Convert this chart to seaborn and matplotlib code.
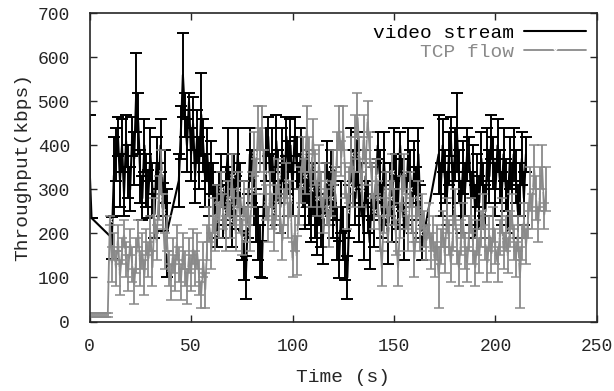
import matplotlib
matplotlib.use('Agg')
import matplotlib.pyplot as plt
import numpy as np
import pandas as pd
import seaborn as sns

# Time stamps (s) and throughput (kbps) with error half-widths
video_time = [0, 1] + list(range(11, 39)) + list(range(44, 165)) + list(range(172, 216))
video_kbps = [
    352, 235,
    190, 330, 380, 420, 320, 400, 290, 410, 340, 300, 420, 370, 520, 450, 330, 280, 400, 320,
    290, 380, 300, 240, 360, 300, 400, 260, 330, 200,
    320, 430, 560, 470, 400, 500, 380, 450, 330, 420, 360, 470, 400, 320, 380, 300, 350, 300,
    250, 230, 280, 320, 250, 290, 380, 280, 230, 320, 270, 380, 300, 200, 150, 100, 240, 380,
    330, 280, 240, 200, 160, 140, 300, 380, 420, 320, 380, 280, 410, 330, 260, 380, 300, 420,
    350, 400, 300, 420, 360, 300, 380, 320, 270, 330, 280, 240, 300, 250, 210, 280, 230, 190,
    300, 350, 280, 330, 250, 290, 200, 140, 260, 200, 150, 100, 250, 380, 330, 280, 370, 240,
    300, 200, 330, 260, 180, 290, 230, 300, 400, 330, 250, 370, 280, 190, 300, 240, 380, 320,
    270, 400, 310, 200, 280, 380, 330, 260, 350, 290, 380, 250, 180,
    380, 300, 400, 330, 280, 370, 420, 300, 380, 430, 330, 260, 350, 300, 380, 380, 280, 340,
    250, 320, 270, 370, 300, 250, 380, 330, 420, 360, 300, 400, 330, 280, 380, 310, 260, 360,
    300, 380, 330, 250, 300, 370, 280, 380,
]
video_err = [
    117, 0,
    47, 90, 60, 45, 60, 60, 50, 60, 60, 50, 45, 60, 90, 70, 60, 50, 60, 60,
    55, 60, 60, 50, 60, 60, 60, 55, 60, 100,
    60, 60, 95, 50, 60, 20, 60, 60, 60, 60, 60, 95, 60, 60, 60, 60, 60, 60,
    60, 60, 60, 60, 60, 60, 60, 60, 60, 60, 60, 60, 60, 60, 55, 48, 50, 60,
    60, 60, 60, 60, 60, 42, 60, 60, 45, 60, 60, 60, 60, 60, 60, 60, 60, 45,
    60, 60, 60, 45, 60, 60, 60, 60, 60, 60, 60, 60, 60, 60, 60, 60, 60, 60,
    60, 60, 60, 60, 60, 60, 60, 42, 60, 60, 55, 48, 60, 60, 60, 60, 60, 60,
    60, 60, 60, 60, 60, 60, 60, 60, 30, 60, 60, 60, 60, 60, 60, 60, 60, 60,
    60, 30, 60, 60, 60, 60, 60, 60, 60, 60, 60, 60, 40,
    90, 60, 60, 60, 60, 60, 45, 60, 60, 90, 60, 60, 60, 60, 60, 40, 60, 60,
    60, 60, 60, 60, 60, 60, 60, 60, 50, 60, 60, 60, 60, 60, 60, 60, 60, 60,
    60, 60, 60, 60, 60, 60, 60, 40,
]

tcp_time = list(range(0, 226))
tcp_kbps = [
    15, 15, 15, 15, 15, 15, 15, 15, 15, 15,
    230, 130, 170, 120, 190, 100, 160, 200, 140, 110, 180, 130, 80, 150, 200, 120, 160, 100,
    180, 140, 200, 120, 240, 180, 280, 340, 250, 160, 200, 120, 90, 150, 110, 180, 130, 90,
    160, 120, 80, 150, 110, 170, 120, 160, 100, 60, 140, 70, 180, 220, 160, 240, 200, 270,
    230, 300, 250, 200, 280, 230, 330, 260, 200, 300, 240, 190, 280, 220, 260, 200, 300, 380,
    330, 440, 390, 440, 340, 270, 220, 300, 250, 200, 270, 330, 240, 180, 260, 320, 230, 280,
    140, 200, 150, 260, 310, 380, 330, 440, 380, 300, 420, 350, 280, 360, 300, 240, 320, 260,
    210, 280, 350, 300, 390, 440, 370, 440, 320, 250, 310, 380, 300, 420, 470, 380, 300, 420,
    350, 460, 390, 320, 250, 330, 280, 200, 120, 240, 300, 220, 280, 340, 260, 190, 120, 230,
    290, 340, 250, 200, 300, 240, 140, 220, 280, 200, 250, 210, 180, 230, 160, 200, 140, 180,
    100, 170, 210, 150, 240, 190, 130, 200, 260, 170, 120, 190, 230, 160, 130, 200, 240, 170,
    120, 190, 150, 210, 250, 180, 130, 200, 150, 220, 170, 130, 190, 240, 160, 200, 150, 210,
    250, 180, 140, 200, 100, 180, 230, 170, 230, 300, 250, 350, 280, 220, 300, 350, 240, 300,
]
tcp_err = [
    5, 5, 5, 5, 5, 5, 5, 5, 5, 5,
    10, 40, 30, 40, 30, 40, 30, 30, 40, 40, 30, 40, 40, 40, 30, 40, 40, 40,
    30, 40, 40, 40, 40, 40, 50, 50, 40, 40, 40, 40, 40, 40, 40, 40, 40, 40,
    40, 40, 40, 40, 40, 40, 40, 40, 40, 30, 40, 40, 40, 40, 40, 40, 40, 40,
    40, 40, 40, 40, 40, 40, 50, 40, 40, 40, 40, 40, 40, 40, 40, 40, 40, 50,
    40, 50, 50, 50, 50, 40, 40, 40, 40, 40, 40, 40, 40, 40, 40, 40, 40, 40,
    40, 40, 45, 40, 40, 40, 40, 50, 40, 40, 40, 40, 40, 40, 40, 40, 40, 40,
    40, 40, 40, 40, 40, 50, 40, 50, 40, 40, 40, 40, 40, 50, 50, 40, 40, 50,
    40, 40, 40, 40, 40, 40, 40, 40, 40, 40, 40, 40, 40, 40, 40, 40, 40, 40,
    40, 40, 40, 40, 40, 40, 40, 40, 40, 40, 40, 40, 40, 40, 40, 40, 40, 40,
    70, 40, 40, 40, 40, 40, 40, 40, 40, 40, 40, 40, 40, 40, 40, 40, 40, 40,
    40, 40, 40, 40, 40, 40, 40, 40, 40, 40, 40, 40, 40, 40, 40, 40, 40, 40,
    40, 40, 40, 40, 70, 40, 40, 40, 40, 50, 40, 50, 50, 40, 50, 50, 30, 50,
]

video = pd.DataFrame({'time': video_time, 'kbps': video_kbps, 'err': video_err})
tcp = pd.DataFrame({'time': tcp_time, 'kbps': tcp_kbps, 'err': tcp_err})

sns.set_style('ticks')
plt.rcParams['font.family'] = ['Liberation Mono', 'DejaVu Sans Mono']

fig = plt.figure(figsize=(6.14, 3.91), dpi=100)
ax = fig.add_axes([0.1458, 0.1777, 0.8265, 0.7883])

black = '#000000'
grey = '#8a8a8a'

# video stream first, TCP flow drawn over it
sns.lineplot(data=video, x='time', y='kbps', sort=False, color=black, lw=1.5,
             label='video stream', ax=ax)
ax.errorbar(video['time'], video['kbps'], yerr=video['err'], fmt='none',
            ecolor=black, elinewidth=1.4, capsize=4.6, capthick=1.4)

sns.lineplot(data=tcp, x='time', y='kbps', sort=False, color=grey, lw=1.3,
             marker='x', markersize=3, markeredgewidth=0.8,
             label='TCP flow', ax=ax)
ax.errorbar(tcp['time'], tcp['kbps'], yerr=tcp['err'], fmt='none',
            ecolor=grey, elinewidth=1.3, capsize=3.6, capthick=1.1)

ax.set_xlim(0, 250)
ax.set_ylim(0, 700)
ax.set_xticks(range(0, 251, 50))
ax.set_yticks(range(0, 701, 100))
ax.tick_params(direction='in', top=True, right=True, length=5, width=1,
               labelsize=13)
ax.tick_params(axis='y', pad=14)
ax.tick_params(axis='x', pad=12)
for s in ax.spines.values():
    s.set_linewidth(1.2)

ax.set_xlabel('Time (s)', fontsize=14, labelpad=10)
ax.set_ylabel('Throughput(kbps)', fontsize=14, labelpad=5)

leg = ax.legend(loc='upper right', frameon=False, markerfirst=False,
                fontsize=14, handlelength=3.2, borderaxespad=0.15,
                labelspacing=0.1, handletextpad=0.5)
for txt, c in zip(leg.get_texts(), [black, grey]):
    txt.set_color(c)

fig.savefig('out.png', dpi=100)
